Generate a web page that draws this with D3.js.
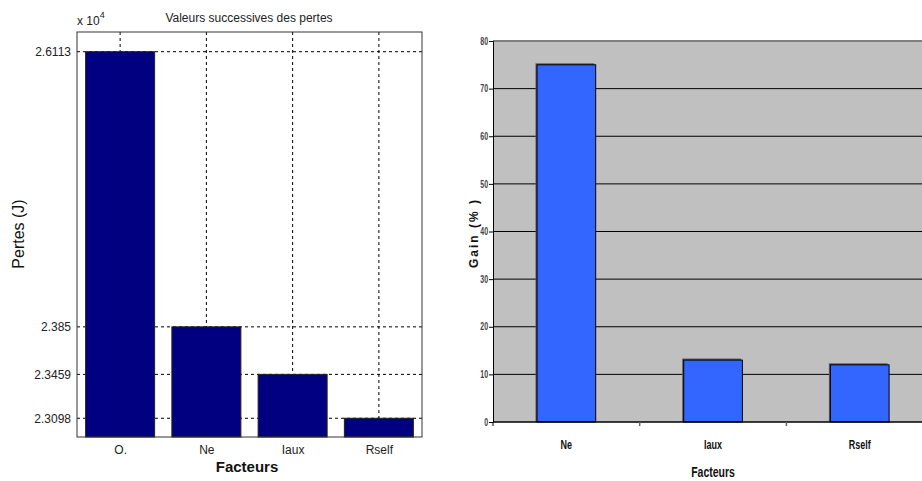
<!DOCTYPE html>
<html>
<head>
<meta charset="utf-8">
<script src="https://cdn.jsdelivr.net/npm/d3@7/dist/d3.min.js"></script>
<style>
  html, body { margin: 0; padding: 0; background: #fff; }
  svg { display: block; }
</style>
</head>
<body>
<svg id="chart" width="922" height="481"></svg>
<script>
// ---- Data (left chart: losses, in units of 10^4 J) ----
const leftCategories = ["O.", "Ne", "Iaux", "Rself"];
const leftValues = [2.6113, 2.385, 2.3459, 2.3098];
const leftTickLabels = ["2.3098", "2.3459", "2.385", "2.6113"];
const leftDomain = [2.2944, 2.6275];

// ---- Data (right chart: gain %) ----
const rightCategories = ["Ne", "Iaux", "Rself"];
const rightValues = [75, 13, 12];
const rightTicks = [0, 10, 20, 30, 40, 50, 60, 70, 80];

const svg = d3.select("#chart");
const SANS = "'Liberation Sans', Arial, sans-serif";

// ================= LEFT CHART =================
const L = { left: 77, right: 422, top: 32, bottom: 437 };
const lx = d3.scaleBand().domain(leftCategories).range([L.left, L.right]).paddingInner(0.2).paddingOuter(0.1);
const lxc = d3.scalePoint().domain(leftCategories).range([L.left, L.right]).padding(0.5);
const ly = d3.scaleLinear().domain(leftDomain).range([L.bottom, L.top]);

const lg = svg.append("g");
// grid lines (dashed)
lg.append("g").selectAll("line").data(leftTickLabels).join("line")
  .attr("x1", L.left).attr("x2", L.right)
  .attr("y1", d => ly(+d)).attr("y2", d => ly(+d))
  .attr("stroke", "#000").attr("stroke-width", 1).attr("stroke-dasharray", "3,3");
lg.append("g").selectAll("line").data(leftCategories).join("line")
  .attr("x1", d => lxc(d)).attr("x2", d => lxc(d))
  .attr("y1", L.top).attr("y2", L.bottom)
  .attr("stroke", "#000").attr("stroke-width", 1).attr("stroke-dasharray", "3,3");

// bars
lg.append("g").selectAll("rect").data(leftValues).join("rect")
  .attr("x", (d, i) => lx(leftCategories[i]))
  .attr("width", lx.bandwidth())
  .attr("y", d => ly(d))
  .attr("height", d => L.bottom - ly(d))
  .attr("fill", "#000080")
  .attr("stroke", "#222").attr("stroke-width", 1);

// axes box
lg.append("rect").attr("x", L.left).attr("y", L.top)
  .attr("width", L.right - L.left).attr("height", L.bottom - L.top)
  .attr("fill", "none").attr("stroke", "#333").attr("stroke-width", 1);

// y axis labels
const lyAxis = d3.axisLeft(ly).tickValues(leftTickLabels.map(Number))
  .tickFormat((d, i) => leftTickLabels[i]).tickSize(0).tickPadding(6);
lg.append("g").attr("transform", `translate(${L.left},0)`).call(lyAxis)
  .call(g => g.select(".domain").remove())
  .selectAll("text").attr("font-family", SANS)
  .attr("font-size", 12).attr("fill", "#222");

// x axis labels
const lxAxis = d3.axisBottom(lxc).tickSize(0).tickPadding(8);
lg.append("g").attr("transform", `translate(0,${L.bottom})`).call(lxAxis)
  .call(g => g.select(".domain").remove())
  .selectAll("text").attr("font-family", SANS)
  .attr("font-size", 12).attr("fill", "#222");

// title, exponent, axis titles
lg.append("text").attr("x", 249).attr("y", 22).attr("text-anchor", "middle")
  .attr("font-family", SANS).attr("font-size", 12).attr("fill", "#222")
  .text("Valeurs successives des pertes");
const ex = lg.append("text").attr("x", 77).attr("y", 25)
  .attr("font-family", SANS).attr("font-size", 12).attr("fill", "#222");
ex.append("tspan").text("x 10");
ex.append("tspan").attr("dy", -7).attr("font-size", 9).text("4");
lg.append("text").attr("transform", "translate(24,234) rotate(-90)").attr("text-anchor", "middle")
  .attr("font-family", SANS).attr("font-size", 16).attr("fill", "#111")
  .text("Pertes (J)");
lg.append("text").attr("x", 247).attr("y", 472).attr("text-anchor", "middle")
  .attr("font-family", SANS).attr("font-size", 15).attr("font-weight", "bold").attr("fill", "#111")
  .text("Facteurs");

// ================= RIGHT CHART =================
const R = { left: 493, right: 922, top: 41, bottom: 422 };
const rx = d3.scaleBand().domain(rightCategories).range([R.left, R.left + 3 * 146.7]).paddingInner(0.6).paddingOuter(0.3);
const ry = d3.scaleLinear().domain([0, 80]).range([R.bottom, R.top]);
const rg = svg.append("g");

rg.append("rect").attr("x", R.left).attr("y", R.top)
  .attr("width", R.right - R.left).attr("height", R.bottom - R.top).attr("fill", "#c0c0c0");

// gridlines
rg.append("g").selectAll("line").data(rightTicks.filter(d => d > 0 && d < 80)).join("line")
  .attr("x1", R.left).attr("x2", R.right)
  .attr("y1", d => ry(d)).attr("y2", d => ry(d))
  .attr("stroke", "#000").attr("stroke-width", 1);
// top border
rg.append("line").attr("x1", R.left).attr("x2", R.right).attr("y1", ry(80)).attr("y2", ry(80))
  .attr("stroke", "#808080").attr("stroke-width", 2);

// bar shadows + bars
rg.append("g").selectAll("rect").data(rightValues).join("rect")
  .attr("x", (d, i) => rx(rightCategories[i]) - 1.5)
  .attr("width", rx.bandwidth())
  .attr("y", d => ry(d) - 1.5)
  .attr("height", d => R.bottom - ry(d) + 1.5)
  .attr("fill", "#555");
rg.append("g").selectAll("rect").data(rightValues).join("rect")
  .attr("x", (d, i) => rx(rightCategories[i]))
  .attr("width", rx.bandwidth())
  .attr("y", d => ry(d))
  .attr("height", d => R.bottom - ry(d))
  .attr("fill", "#3366ff")
  .attr("stroke", "#000").attr("stroke-width", 1);

// y axis
const ryAxis = d3.axisLeft(ry).tickValues(rightTicks).tickSize(4).tickPadding(3);
rg.append("g").attr("transform", `translate(${R.left},0)`).call(ryAxis)
  .call(g => g.select(".domain").attr("stroke", "#000"))
  .call(g => g.selectAll("line").attr("stroke", "#000"))
  .selectAll("text").attr("font-family", SANS).attr("transform", "scale(0.7,1)")
  .attr("font-weight", "bold").attr("font-size", 10).attr("fill", "#444");

// x axis: baseline and boundary ticks
rg.append("line").attr("x1", R.left).attr("x2", R.right).attr("y1", R.bottom).attr("y2", R.bottom)
  .attr("stroke", "#000").attr("stroke-width", 1.5);
rg.append("g").selectAll("line").data(rightCategories.slice(1)).join("line")
  .attr("x1", c => rx(c) - (rx.step() - rx.bandwidth()) / 2)
  .attr("x2", c => rx(c) - (rx.step() - rx.bandwidth()) / 2)
  .attr("y1", R.bottom).attr("y2", R.bottom + 4)
  .attr("stroke", "#666").attr("stroke-width", 1.5);
rg.append("line").attr("x1", R.left).attr("x2", R.left).attr("y1", R.bottom).attr("y2", R.bottom + 4)
  .attr("stroke", "#000");

rg.append("g").selectAll("text").data(rightCategories).join("text")
  .attr("transform", c => `translate(${rx(c) + rx.bandwidth() / 2},449) scale(0.75,1)`)
  .attr("text-anchor", "middle")
  .attr("font-family", SANS)
  .attr("font-weight", "bold").attr("font-size", 12).attr("fill", "#111")
  .text(c => c);

rg.append("text").attr("transform", "translate(713,477) scale(0.75,1)").attr("text-anchor", "middle")
  .attr("font-family", SANS)
  .attr("font-weight", "bold").attr("font-size", 14).attr("fill", "#111")
  .text("Facteurs");
rg.append("text").attr("transform", "translate(478,233) rotate(-90)").attr("text-anchor", "middle")
  .attr("font-family", SANS)
  .attr("font-weight", "bold").attr("font-size", 12).attr("letter-spacing", 2).attr("fill", "#111")
  .text("Gain (% )");
</script>
</body>
</html>
